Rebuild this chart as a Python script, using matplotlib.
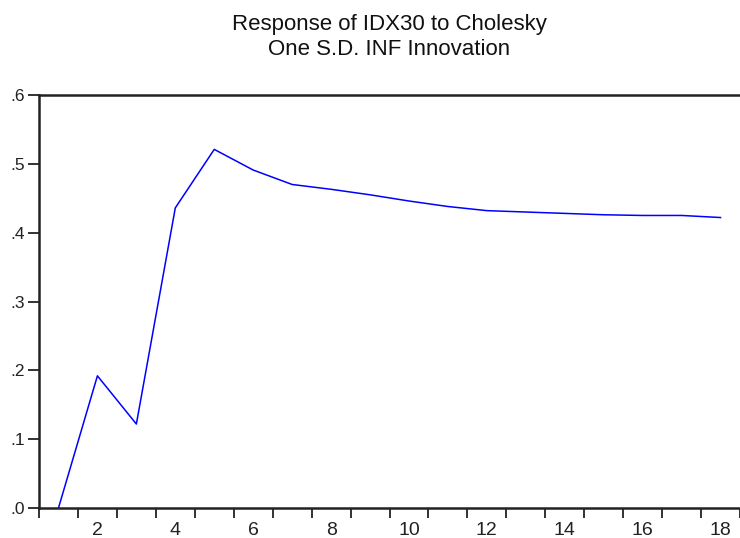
import matplotlib
matplotlib.use("Agg")
import matplotlib.pyplot as plt
from matplotlib.ticker import FixedLocator, FuncFormatter, NullFormatter

periods = list(range(1, 19))
response = [0.000, 0.192, 0.122, 0.436, 0.521, 0.491, 0.470, 0.463, 0.455,
            0.446, 0.438, 0.432, 0.430, 0.428, 0.426, 0.425, 0.425, 0.422]
title = "Response of IDX30 to Cholesky\nOne S.D. INF Innovation"
label_periods = [2, 4, 6, 8, 10, 12, 14, 16, 18]
y_ticks = [0.0, 0.1, 0.2, 0.3, 0.4, 0.5, 0.6]

plt.rcParams['font.family'] = ['Liberation Sans', 'DejaVu Sans']

fig = plt.figure(figsize=(7.4, 5.38), dpi=100)
ax = fig.add_axes([39/740, 1 - 508/538, 1 - 39/740, (508 - 95)/538])

ax.plot(periods, response, color='#0000ff', linewidth=1.1)

ax.set_xlim(0.5, 18.5)
ax.set_ylim(0.0, 0.6)

# period boundary ticks (no labels) and centred labels
ax.xaxis.set_major_locator(FixedLocator([p - 0.5 for p in periods] + [18.5]))
ax.xaxis.set_major_formatter(NullFormatter())
ax.xaxis.set_minor_locator(FixedLocator(label_periods))
ax.xaxis.set_minor_formatter(FuncFormatter(lambda v, p: f"{int(v)}"))
ax.tick_params(axis='x', which='major', direction='out', length=7, width=1.3, color='#222222')
ax.tick_params(axis='x', which='minor', length=0, pad=10, labelsize=14, labelcolor='#222222')

ax.yaxis.set_major_locator(FixedLocator(y_ticks))
ax.yaxis.set_major_formatter(FuncFormatter(lambda v, p: f"{v:.1f}".lstrip('0')))
ax.tick_params(axis='y', direction='out', length=8, width=1.3, pad=2, labelsize=12.5,
               labelcolor='#222222', color='#222222')

for side in ['left', 'bottom', 'top']:
    ax.spines[side].set_linewidth(1.8)
    ax.spines[side].set_color('#222222')
ax.spines['right'].set_visible(False)

fig.text(389/740, 1 - 37/538, title, ha='center', va='center', fontsize=16,
         linespacing=1.22, color='#111111')

fig.savefig("out.png", dpi=100)
